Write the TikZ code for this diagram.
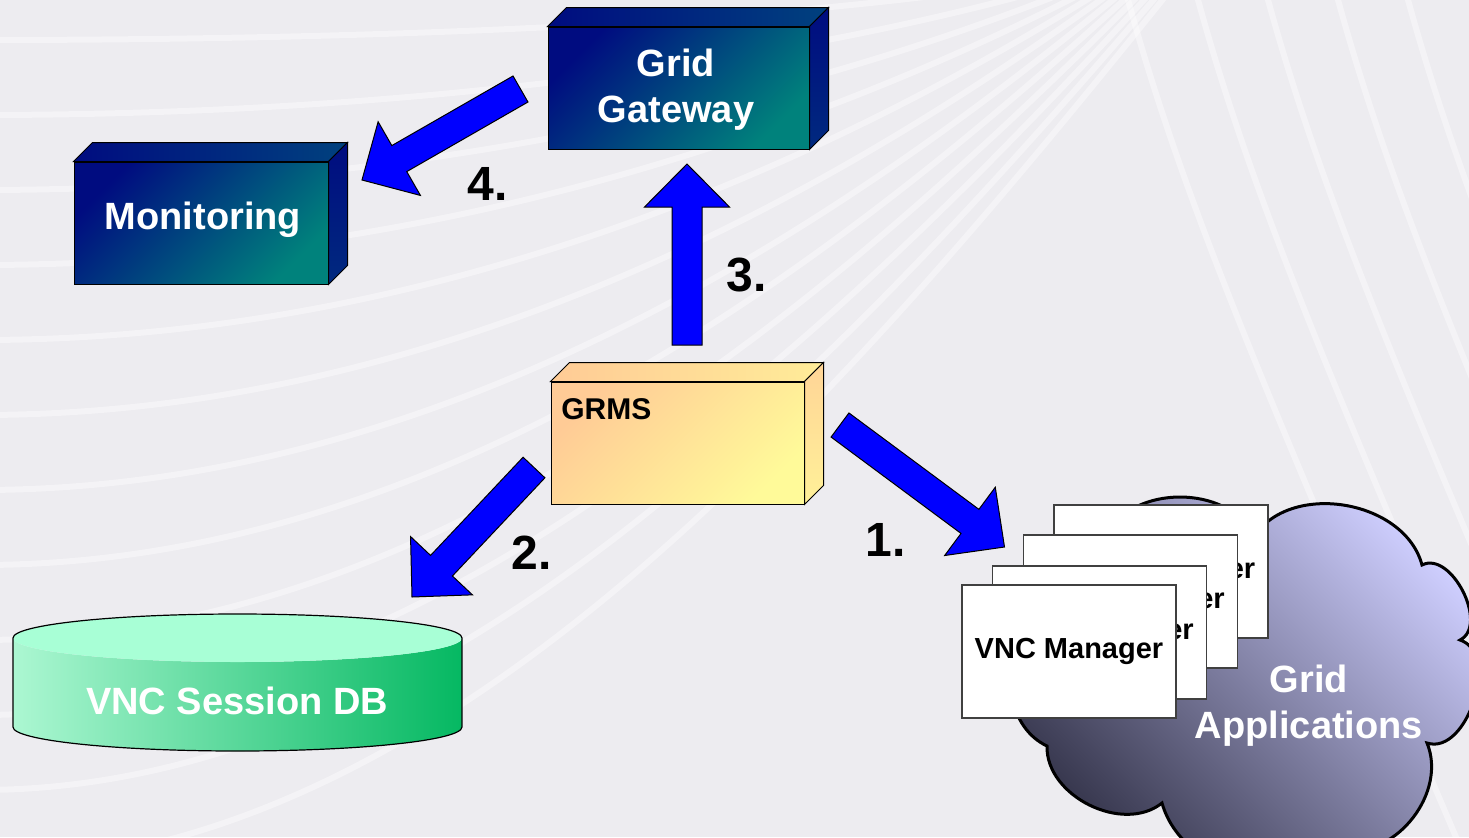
\documentclass[tikz,border=0pt]{standalone}
\usepackage{fontspec}
\setmainfont{Liberation Sans}
\usetikzlibrary{calc}
\definecolor{bgc}{HTML}{EDECF0}
\definecolor{navyA}{HTML}{000C80}
\definecolor{tealA}{HTML}{00827C}
\definecolor{peachA}{HTML}{FFCB96}
\definecolor{yellowA}{HTML}{FFFA99}
\definecolor{arrowblue}{HTML}{0000FF}
\definecolor{dbtop}{HTML}{A8FFD6}
\definecolor{dbL}{HTML}{ACF7D2}
\definecolor{dbR}{HTML}{05B862}
\definecolor{cloudD}{HTML}{26263A}
\definecolor{cloudM}{HTML}{6E6E98}
\definecolor{cloudL}{HTML}{CFCFFF}
\newcommand\cubefaces[5]{% node, top-left, top-right, side-top, side-bottom
  \shade[draw=black, line width=0.5pt, left color=#2, right color=#3]
    (#1.north west) -- ($(#1.north west)+(19,-19)$) -- ($(#1.north east)+(19,-19)$) -- (#1.north east) -- cycle;
  \shade[draw=black, line width=0.5pt, top color=#4, bottom color=#5]
    (#1.north east) -- ($(#1.north east)+(19,-19)$) -- ($(#1.south east)+(19,-19)$) -- (#1.south east) -- cycle;
}
\newcommand\blockarrow[2]{% tail, tip
  \coordinate (bah) at ($(#2)!21.5pt!(#1)$);
  \filldraw[barrow] ($(#1)!7.5pt!90:(#2)$) -- ($(bah)!7.5pt!90:(#2)$) -- ($(bah)!21.25pt!90:(#2)$)
    -- (#2) -- ($(bah)!21.25pt!-90:(#2)$) -- ($(bah)!7.5pt!-90:(#2)$) -- ($(#1)!7.5pt!-90:(#2)$) -- cycle;
}
\begin{document}
\begin{tikzpicture}[x=0.5pt,y=-0.5pt,
  streak/.style={white, opacity=0.4, line width=3pt},
  barrow/.style={fill=arrowblue, draw=black, line width=0.5pt, line join=miter},
  navybox/.style={draw=black, line width=0.5pt, inner sep=0pt, top color=navyA, middle color=navyA, bottom color=tealA, shading angle=45, text=white, font=\fontsize{19}{23}\selectfont\bfseries, align=center},
  peachbox/.style={draw=black, line width=0.5pt, inner sep=0pt, top color=peachA, middle color=peachA!55!yellowA, bottom color=yellowA, shading angle=45},
  card/.style={draw=black!75, fill=white, line width=0.6pt, minimum width=107pt, minimum height=66.5pt, inner sep=0pt, font=\fontsize{14.5}{17}\selectfont\bfseries},
  num/.style={inner sep=0pt, font=\fontsize{24}{28}\selectfont\bfseries},
  whitetxt/.style={inner sep=0pt, text=white, align=center, font=\fontsize{19}{23}\selectfont\bfseries}
]
\useasboundingbox (0,0) rectangle (1469,837);
\clip (0,0) rectangle (1469,837);
\fill[bgc] (0,0) rectangle (1469,837);
% background streaks
\foreach \yy in {40,115,...,900} {
  \draw[streak] (-20,\yy) .. controls (450,\yy) and (850,{0.45*\yy}) .. ({1100+0.1*\yy},-30);
}
\foreach \xx in {1120,1190,...,1470} {
  \draw[streak] (\xx,-30) .. controls ({\xx+60},200) and ({\xx+150},400) .. ({\xx+350},870);
}
% cloud
\shade[draw=black, line width=1.5pt, line join=miter, top color=cloudL, middle color=cloudM, bottom color=cloudD, shading angle=-45]
  (1105,535) to[bend left=60] (1255,535) to[bend left=65] (1422,565) to[bend left=90] (1460,640)
  to[bend left=90] (1427,743) to[bend left=60] (1345,850) to[bend left=60] (1162,803)
  to[bend left=65] (1047,746) to[bend left=80] (1105,535) -- cycle;
\node[whitetxt] (apps) at (1309,706) {Grid\\Applications};
% VNC manager cards
\node[card] (vm4) at (1161,571.5) {VNC Manager};
\node[card] (vm3) at (1130.5,601.5) {VNC Manager};
\node[card] (vm2) at (1099.5,632.5) {VNC Manager};
\node[card] (vm1) at (1069,651.5) {VNC Manager};
% database cylinder
\shade[left color=dbL, right color=dbR]
  (13,638) -- (13,727) arc[start angle=180, end angle=360, x radius=112.25pt, y radius=12pt]
  -- (462,638) arc[start angle=0, end angle=-180, x radius=112.25pt, y radius=12pt] -- cycle;
\fill[dbtop] (237.5,638) ellipse[x radius=112.25pt, y radius=12pt];
\draw[line width=0.6pt] (13,638) -- (13,727) arc[start angle=180, end angle=360, x radius=112.25pt, y radius=12pt]
  -- (462,638) arc[start angle=0, end angle=180, x radius=112.25pt, y radius=12pt];
\node[inner sep=0pt, text=white, font=\fontsize{19}{22}\selectfont\bfseries] (db) at (237,701) {VNC Session DB};
% boxes
\node[navybox, minimum width=130.5pt, minimum height=61pt] (gw) at (678.5,88) {};
\node[whitetxt] (gwlbl) at (676,90) {Grid\\Gateway};
\cubefaces{gw}{navyA}{navyA!55!tealA}{navyA}{navyA!75!tealA}
\node[navybox, minimum width=127pt, minimum height=61pt] (mon) at (201,223) {};
\node[whitetxt] (monlbl) at (203,220) {Monitoring};
\cubefaces{mon}{navyA}{navyA!55!tealA}{navyA}{navyA!75!tealA}
\node[peachbox, minimum width=126.5pt, minimum height=61pt] (grms) at (677.5,443) {};
\cubefaces{grms}{peachA}{yellowA!70!peachA}{peachA!80!yellowA}{yellowA!80!peachA}
\node[inner sep=0pt, anchor=base west, font=\fontsize{15}{18}\selectfont\bfseries] (grmslbl) at (561,419) {GRMS};
% arrows
\coordinate (a1s) at (840,425);   \coordinate (a1e) at (1004.5,547);
\coordinate (a2s) at (534,467.5); \coordinate (a2e) at (412,597);
\coordinate (a3s) at (687,345);   \coordinate (a3e) at (687,164);
\coordinate (a4s) at (520.5,89);  \coordinate (a4e) at (362,180);
\blockarrow{a1s}{a1e}
\blockarrow{a2s}{a2e}
\blockarrow{a3s}{a3e}
\blockarrow{a4s}{a4e}
\node[num] (n1) at (886,540) {1.};
\node[num] (n2) at (532,552.5) {2.};
\node[num] (n3) at (747,275.5) {3.};
\node[num] (n4) at (487.5,184) {4.};
\end{tikzpicture}
\end{document}
